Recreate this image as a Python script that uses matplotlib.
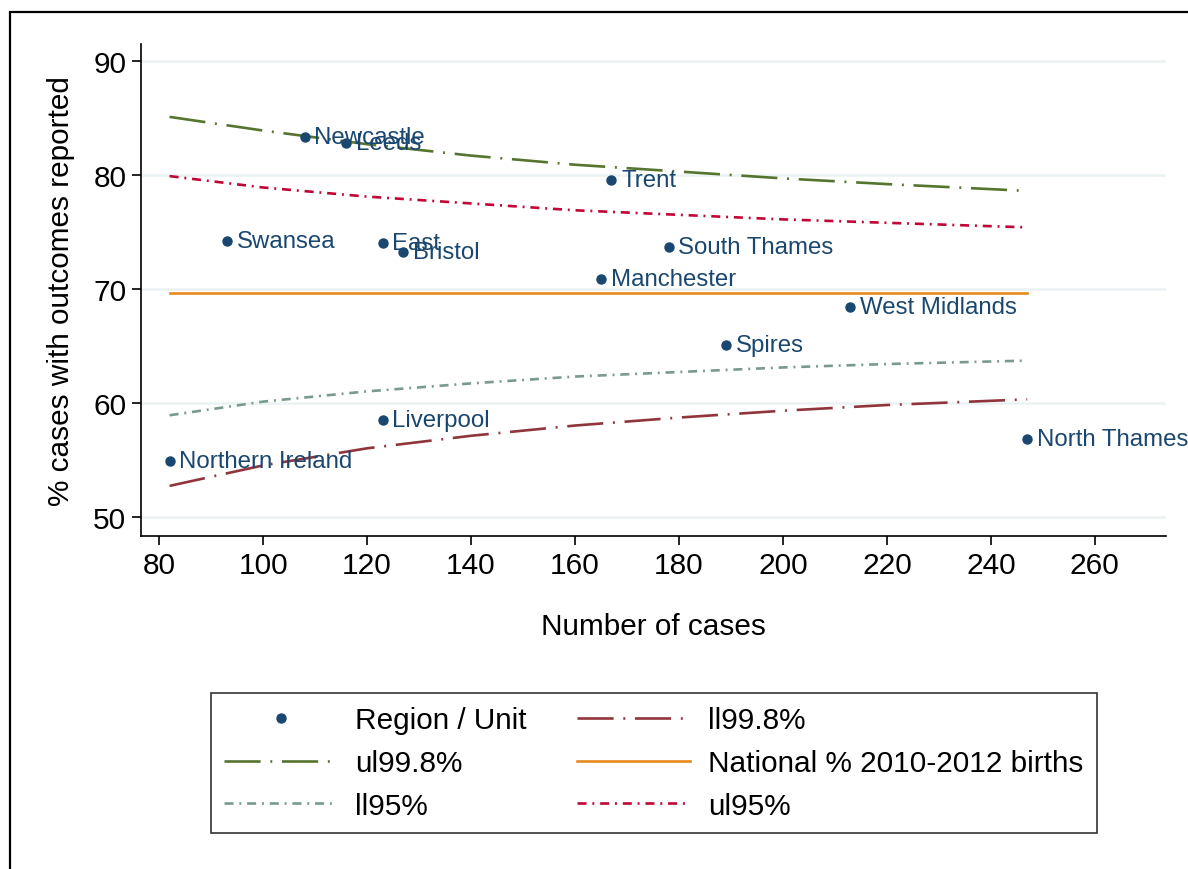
import matplotlib
matplotlib.use('Agg')
import matplotlib.pyplot as plt
from matplotlib.patches import Rectangle

plt.rcParams['font.family'] = ['Liberation Sans', 'DejaVu Sans']
plt.rcParams['lines.scale_dashes'] = False

# unidades: numero de casos y % con resultados
unidades = ['Newcastle', 'Leeds', 'Trent', 'Swansea', 'East', 'Bristol',
            'South Thames', 'Manchester', 'West Midlands', 'Spires',
            'Liverpool', 'Northern Ireland', 'North Thames']
casos = [108, 116, 167, 93, 123, 127, 178, 165, 213, 189, 123, 82, 247]
porcentaje = [83.3, 82.8, 79.6, 74.2, 74.0, 73.2, 73.7, 70.9, 68.4, 65.1, 58.5, 54.9, 56.8]

# limites del embudo
n_limites = [82, 100, 120, 140, 160, 180, 200, 220, 247]
ul998 = [85.1, 83.9, 82.7, 81.7, 80.9, 80.3, 79.7, 79.2, 78.6]
ul95 = [79.9, 78.9, 78.1, 77.5, 76.9, 76.5, 76.1, 75.8, 75.4]
ll95 = [58.9, 60.1, 61.0, 61.7, 62.3, 62.7, 63.1, 63.4, 63.7]
ll998 = [52.7, 54.5, 56.0, 57.1, 58.0, 58.7, 59.3, 59.8, 60.3]
nacional = 69.6

navy = '#1a476f'
verde = '#55752f'
rojo = '#c10534'
gris = '#7a9a8c'
granate = '#90353b'
naranja = '#e8891e'

fig = plt.figure(figsize=(11.88, 8.70), dpi=100)
ax = fig.add_axes([141/1188, 1 - 537/870, (1166 - 141)/1188, (537 - 45)/870])

# marco exterior (recortado a la derecha y abajo)
fig.patches.append(Rectangle((10/1188, -0.1), 1.2, 1 - 13/870 + 0.1,
                             transform=fig.transFigure, fill=False,
                             edgecolor='black', linewidth=1.6))

ax.set_xlim(76.5, 273.7)
ax.set_ylim(48.3, 91.5)
ax.set_xticks(range(80, 261, 20))
ax.set_yticks(range(50, 91, 10))
ax.grid(axis='y', color='#eaf2f3', linewidth=1.8)
ax.set_axisbelow(True)
for lado in ['top', 'right']:
    ax.spines[lado].set_visible(False)
for lado in ['left', 'bottom']:
    ax.spines[lado].set_linewidth(1.2)
ax.tick_params(labelsize=21.5, length=6.5, width=1.2, pad=4)

guion_largo = (0, (26, 7, 1.4, 7))
guion_corto = (0, (6.5, 4.2, 1.4, 4.2))

l_ul998, = ax.plot(n_limites, ul998, color=verde, lw=1.9, linestyle=guion_largo)
l_ul95, = ax.plot(n_limites, ul95, color=rojo, lw=1.9, linestyle=guion_corto)
l_ll95, = ax.plot(n_limites, ll95, color=gris, lw=1.9, linestyle=guion_corto)
l_ll998, = ax.plot(n_limites, ll998, color=granate, lw=1.9, linestyle=guion_largo)
l_nac, = ax.plot([n_limites[0], n_limites[-1]], [nacional, nacional], color=naranja, lw=1.9)

puntos, = ax.plot(casos, porcentaje, 'o', color=navy, markersize=6.5, linestyle='none')
for nombre, x, y in zip(unidades, casos, porcentaje):
    ax.annotate(nombre, (x, y), xytext=(7, 0), textcoords='offset points',
                va='center', ha='left', fontsize=17.3, color=navy, annotation_clip=False)

ax.set_xlabel('Number of cases', fontsize=21.4, labelpad=24)
ax.set_ylabel('% cases with outcomes reported', fontsize=21.4, labelpad=13)

manejadores = [puntos, l_ul998, l_ll95, l_ll998, l_nac, l_ul95]
etiquetas = ['Region / Unit', 'ul99.8%', 'll95%', 'll99.8%',
             'National % 2010-2012 births', 'ul95%']
leg = fig.legend(manejadores, etiquetas, ncol=2, loc='center',
                 bbox_to_anchor=(654/1188, 1 - 764/870), fontsize=21.4,
                 frameon=True, fancybox=False, edgecolor='black',
                 handlelength=3.8, handletextpad=0.6, columnspacing=1.7,
                 labelspacing=0.5, borderpad=0.45, markerscale=1.0)
leg.get_frame().set_linewidth(1.2)

fig.savefig('out.png', dpi=100)
